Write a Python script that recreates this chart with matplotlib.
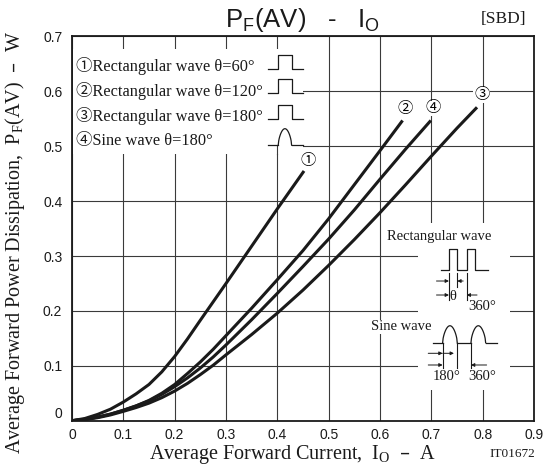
import numpy as np
import matplotlib.pyplot as plt
from matplotlib.patches import Rectangle

# PF(AV) - IO curves
io_60 = [0, 0.025, 0.05, 0.075, 0.1, 0.125, 0.15, 0.175, 0.2, 0.225, 0.25, 0.3, 0.35, 0.4, 0.452]
pf_60 = [0, 0.004, 0.0115, 0.021, 0.034, 0.049, 0.066, 0.089, 0.117, 0.149, 0.183, 0.25, 0.318, 0.386, 0.455]

io_120 = [0, 0.025, 0.05, 0.075, 0.1, 0.125, 0.15, 0.175, 0.2, 0.225, 0.25, 0.275, 0.3,
          0.35, 0.4, 0.45, 0.5, 0.55, 0.6, 0.644]
pf_120 = [0, 0.0025, 0.0065, 0.012, 0.019, 0.027, 0.037, 0.05, 0.066, 0.086, 0.107, 0.13, 0.155,
          0.205, 0.257, 0.31, 0.368, 0.43, 0.492, 0.547]

io_180 = [0, 0.025, 0.05, 0.075, 0.1, 0.125, 0.15, 0.175, 0.2, 0.225, 0.25, 0.275, 0.3,
          0.35, 0.4, 0.45, 0.5, 0.55, 0.6, 0.65, 0.7, 0.75, 0.789]
pf_180 = [0, 0.002, 0.0055, 0.0105, 0.017, 0.024, 0.032, 0.042, 0.054, 0.068, 0.084, 0.101, 0.12,
          0.157, 0.196, 0.238, 0.283, 0.33, 0.379, 0.43, 0.482, 0.533, 0.571]

io_sine = [0, 0.025, 0.05, 0.075, 0.1, 0.125, 0.15, 0.175, 0.2, 0.225, 0.25, 0.275, 0.3,
           0.35, 0.4, 0.45, 0.5, 0.55, 0.6, 0.65, 0.699]
pf_sine = [0, 0.0025, 0.0065, 0.012, 0.019, 0.027, 0.036, 0.048, 0.062, 0.078, 0.096, 0.116, 0.138,
           0.184, 0.232, 0.281, 0.331, 0.384, 0.44, 0.495, 0.547]

x_ticks = [0, 0.1, 0.2, 0.3, 0.4, 0.5, 0.6, 0.7, 0.8, 0.9]
x_tick_labels = ['0', '0.1', '0.2', '0.3', '0.4', '0.5', '0.6', '0.7', '0.8', '0.9']
y_ticks = [0, 0.1, 0.2, 0.3, 0.4, 0.5, 0.6, 0.7]
y_tick_labels = ['0', '0.1', '0.2', '0.3', '0.4', '0.5', '0.6', '0.7']

legend_texts = ['\u2460Rectangular wave \u03b8=60\u00b0',
                '\u2461Rectangular wave \u03b8=120\u00b0',
                '\u2462Rectangular wave \u03b8=180\u00b0',
                '\u2463Sine wave \u03b8=180\u00b0']

SERIF = ['Liberation Serif', 'Noto Sans CJK JP']
SANS = ['Liberation Sans', 'DejaVu Sans']
INK = '#1a1a1a'
GRID = '#3a3a3a'

fig = plt.figure(figsize=(5.49, 4.66), dpi=100)
ax = fig.add_axes([0.1311, 0.0972, 0.8416, 0.8245])
ax.set_xlim(0, 0.9)
ax.set_ylim(0, 0.7)
ax.set_xticks(x_ticks)
ax.set_xticklabels(x_tick_labels, fontfamily=SANS, fontsize=10)
ax.set_yticks(y_ticks)
ax.set_yticklabels(y_tick_labels, fontfamily=SANS, fontsize=10)
ax.tick_params(axis='x', length=0, pad=5, colors=INK)
ax.tick_params(axis='y', length=0, pad=7, colors=INK)
ax.get_yticklabels()[0].set_verticalalignment('bottom')
ax.grid(True, color=GRID, lw=0.8)
ax.set_axisbelow(True)
for sp in ax.spines.values():
    sp.set_linewidth(1.3)
    sp.set_color(INK)

# curves
for xs, ys in [(io_60, pf_60), (io_120, pf_120), (io_180, pf_180), (io_sine, pf_sine)]:
    ax.plot(xs, ys, color=INK, lw=2.2, zorder=3, solid_capstyle='butt', solid_joinstyle='round')

box = dict(facecolor='white', edgecolor='none', pad=0.5)
ax.text(0.4605, 0.474, '\u2460', fontfamily=SERIF, fontsize=11, ha='center', va='center', bbox=box, zorder=4)
ax.text(0.649, 0.567, '\u2461', fontfamily=SERIF, fontsize=11, ha='center', va='center', bbox=box, zorder=4)
ax.text(0.798, 0.593, '\u2462', fontfamily=SERIF, fontsize=11, ha='center', va='center', bbox=box, zorder=4)
ax.text(0.7026, 0.569, '\u2463', fontfamily=SERIF, fontsize=11, ha='center', va='center', bbox=box, zorder=4)

# legend block (top left)
ax.add_patch(Rectangle((0.002, 0.485), 0.448, 0.193, facecolor='white', edgecolor='none', zorder=1))
ax.plot([0.4, 0.4], [0.485, 0.502], color=GRID, lw=0.8, zorder=1.5)
row_y = [0.647, 0.601, 0.556, 0.510]
base_y = [0.640, 0.5965, 0.549, 0.502]
for i, txt in enumerate(legend_texts):
    ax.text(0.0078, row_y[i], txt, fontfamily=SERIF, fontsize=11.8, ha='left', va='center', color=INK, zorder=4)
    b = base_y[i]
    if i < 3:
        ax.plot([0.3824, 0.4018, 0.4018, 0.4278, 0.4278, 0.4494],
                [b, b, b + 0.026, b + 0.026, b, b], color=INK, lw=0.9, zorder=4)
    else:
        t = np.linspace(0, 1, 30)
        ax.plot([0.3824, 0.4018], [b, b], color=INK, lw=0.9, zorder=4)
        ax.plot(0.4018 + 0.026 * t, b + 0.03 * np.sin(np.pi * t) ** 0.6, color=INK, lw=0.9, zorder=4)
        ax.plot([0.4278, 0.4494], [b, b], color=INK, lw=0.9, zorder=4)

# waveform inset (bottom right)
ax.add_patch(Rectangle((0.674, 0.056), 0.179, 0.304, facecolor='white', edgecolor='none', zorder=1))
ax.text(0.715, 0.336, 'Rectangular wave', fontfamily=SERIF, fontsize=10.5, ha='center', va='center',
        color=INK, bbox=box, zorder=4)
rb, rt = 0.2745, 0.3122
ax.plot([0.718, 0.7343, 0.7343, 0.7505, 0.7505, 0.7688, 0.7688, 0.785, 0.785, 0.8112],
        [rb, rb, rt, rt, rb, rb, rt, rt, rb, rb], color=INK, lw=0.9, zorder=4)
ax.plot([0.7343, 0.7343], [0.269, 0.219], color=INK, lw=0.8, zorder=4)
ax.plot([0.7505, 0.7505], [0.269, 0.243], color=INK, lw=0.8, zorder=4)
ax.plot([0.7688, 0.7688], [0.269, 0.219], color=INK, lw=0.8, zorder=4)

arw = dict(arrowstyle='-|>', lw=0.7, color=INK, mutation_scale=5, shrinkA=0, shrinkB=0)


def arrow(x0, x1, y):
    ax.annotate('', xy=(x1, y), xytext=(x0, y), arrowprops=arw, zorder=4)


arrow(0.710, 0.7343, 0.2545)
arrow(0.762, 0.7505, 0.2545)
arrow(0.710, 0.7343, 0.229)
arrow(0.789, 0.7688, 0.229)
ax.text(0.7424, 0.226, '\u03b8', fontfamily=SERIF, fontsize=10.5, ha='center', va='center', color=INK, zorder=4)
ax.text(0.772, 0.208, '360\u00b0', fontfamily=SERIF, fontsize=10.5, ha='left', va='center', color=INK, zorder=4)

ax.text(0.641, 0.171, 'Sine wave', fontfamily=SERIF, fontsize=10.5, ha='center', va='center',
        color=INK, bbox=box, zorder=4)
sb = 0.142
t = np.linspace(0, 1, 30)
ax.plot([0.7026, 0.722], [sb, sb], color=INK, lw=0.9, zorder=4)
ax.plot(0.722 + 0.0285 * t, sb + 0.031 * np.sin(np.pi * t) ** 0.6, color=INK, lw=0.9, zorder=4)
ax.plot([0.7505, 0.7772], [sb, sb], color=INK, lw=0.9, zorder=4)
ax.plot(0.7772 + 0.0286 * t, sb + 0.031 * np.sin(np.pi * t) ** 0.6, color=INK, lw=0.9, zorder=4)
ax.plot([0.8058, 0.8272], [sb, sb], color=INK, lw=0.9, zorder=4)
for xv in [0.722, 0.7505, 0.7772]:
    ax.plot([xv, xv], [sb, 0.0955], color=INK, lw=0.8, zorder=4)
arrow(0.694, 0.722, 0.1228)
arrow(0.722, 0.744, 0.1228)
arrow(0.694, 0.722, 0.1015)
arrow(0.8077, 0.7772, 0.1015)
ax.text(0.7297, 0.080, '180\u00b0', fontfamily=SERIF, fontsize=10.5, ha='center', va='center', color=INK, zorder=4)
ax.text(0.800, 0.080, '360\u00b0', fontfamily=SERIF, fontsize=10.5, ha='center', va='center', color=INK, zorder=4)

# titles and labels
fig.text(0.551, 0.957, 'P$_\\mathregular{F}$(AV)   -   I$_\\mathregular{O}$', fontfamily=SANS,
         fontsize=18.5, ha='center', va='center', color=INK)
fig.text(0.958, 0.960, '[SBD]', fontfamily=SERIF, fontsize=12.5, ha='right', va='center', color=INK)
ax.set_xlabel('Average Forward Current,  I$_\\mathregular{O}$  \u2013  A', fontfamily=SERIF,
              fontsize=14.5, color=INK)
ax.xaxis.set_label_coords(0.478, -0.058)
ax.set_ylabel('Average Forward Power Dissipation,  P$_\\mathregular{F}$(AV)  \u2013  W', fontfamily=SERIF,
              fontsize=14.5, color=INK)
ax.yaxis.set_label_coords(-0.098, 0.465)
fig.text(0.975, 0.025, 'IT01672', fontfamily=SERIF, fontsize=9.5, ha='right', va='center', color=INK)

fig.savefig('out.png', dpi=100)
